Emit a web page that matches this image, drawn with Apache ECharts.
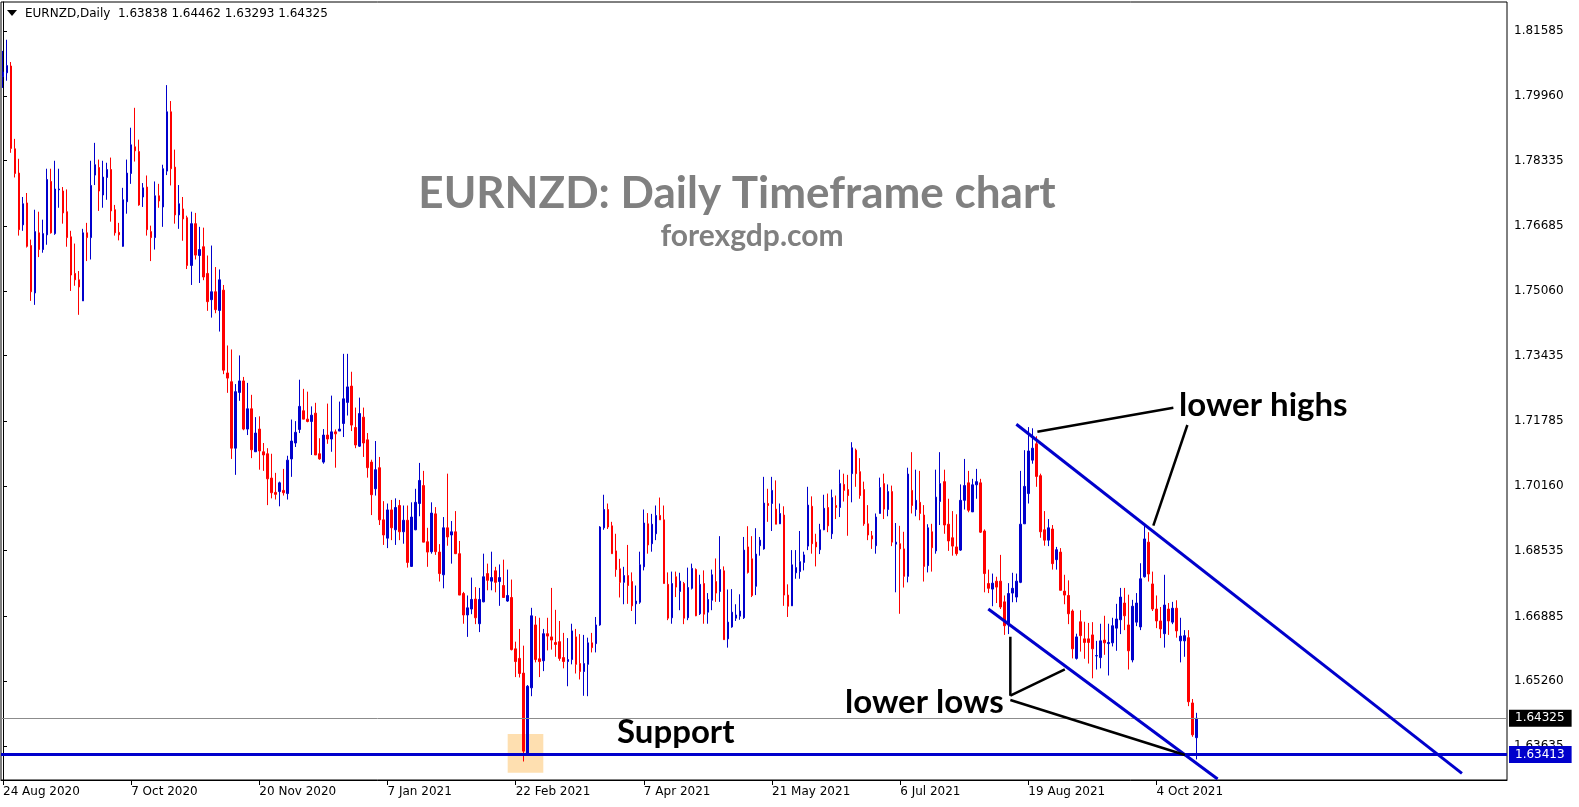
<!DOCTYPE html>
<html><head><meta charset="utf-8">
<script src="https://cdn.jsdelivr.net/npm/echarts@6/dist/echarts.min.js"></script>
<style>html,body{margin:0;padding:0;background:#fff}#c{width:1579px;height:807px}</style>
</head><body><div id="c"></div>
<script>
const symbolName = 'EURNZD';
const timeframe = 'Daily';
// each bar: [open, close, low, high]
const ohlc = [
[1.8044,1.8056,1.8016,1.8109],[1.8054,1.8072,1.8034,1.8137],[1.8071,1.7864,1.7853,1.8081],[1.7863,1.7801,1.7791,1.7888],
[1.7802,1.7660,1.7645,1.7838],[1.7672,1.7725,1.7657,1.7742],[1.7727,1.7618,1.7615,1.7752],[1.7620,1.7504,1.7481,1.7635],
[1.7501,1.7655,1.7471,1.7710],[1.7652,1.7610,1.7591,1.7705],[1.7610,1.7650,1.7602,1.7685],[1.7647,1.7786,1.7622,1.7813],
[1.7781,1.7652,1.7650,1.7813],[1.7650,1.7762,1.7647,1.7833],[1.7760,1.7762,1.7715,1.7813],[1.7757,1.7702,1.7675,1.7767],
[1.7705,1.7640,1.7617,1.7761],[1.7642,1.7546,1.7506,1.7657],[1.7550,1.7534,1.7519,1.7625],[1.7534,1.7516,1.7446,1.7556],
[1.7481,1.7652,1.7481,1.7662],[1.7652,1.7640,1.7581,1.7677],[1.7640,1.7771,1.7585,1.7833],[1.7797,1.7823,1.7772,1.7878],
[1.7816,1.7757,1.7707,1.7836],[1.7747,1.7792,1.7715,1.7833],[1.7791,1.7811,1.7735,1.7828],[1.7811,1.7707,1.7680,1.7841],
[1.7710,1.7652,1.7645,1.7722],[1.7653,1.7647,1.7633,1.7677],[1.7618,1.7735,1.7617,1.7765],[1.7730,1.7802,1.7700,1.7836],
[1.7801,1.7873,1.7775,1.7916],[1.7868,1.7858,1.7831,1.7966],[1.7856,1.7722,1.7720,1.7886],[1.7742,1.7765,1.7717,1.7777],
[1.7767,1.7660,1.7645,1.7796],[1.7655,1.7640,1.7581,1.7670],[1.7640,1.7745,1.7610,1.7781],[1.7745,1.7732,1.7715,1.7775],
[1.7717,1.7813,1.7667,1.7823],[1.7807,1.7956,1.7797,1.8023],[1.7956,1.7813,1.7771,1.7983],[1.7817,1.7697,1.7675,1.7861],
[1.7697,1.7725,1.7662,1.7772],[1.7712,1.7687,1.7632,1.7742],[1.7690,1.7570,1.7561,1.7695],[1.7570,1.7675,1.7521,1.7705],
[1.7675,1.7596,1.7585,1.7702],[1.7595,1.7610,1.7526,1.7667],[1.7617,1.7541,1.7533,1.7665],[1.7550,1.7479,1.7456,1.7595],
[1.7484,1.7504,1.7439,1.7620],[1.7504,1.7459,1.7450,1.7566],[1.7457,1.7534,1.7404,1.7560],[1.7508,1.7307,1.7297,1.7521],
[1.7300,1.7287,1.7250,1.7369],[1.7278,1.7111,1.7084,1.7359],[1.7111,1.7253,1.7044,1.7272],[1.7251,1.7280,1.7230,1.7344],
[1.7280,1.7159,1.7156,1.7290],[1.7159,1.7210,1.7144,1.7275],[1.7210,1.7107,1.7086,1.7245],[1.7102,1.7149,1.7102,1.7189],
[1.7159,1.7104,1.7057,1.7191],[1.7102,1.7094,1.7054,1.7124],[1.7097,1.7034,1.6968,1.7111],[1.7036,1.6999,1.6985,1.7097],
[1.7000,1.6995,1.6982,1.7049],[1.7002,1.7024,1.6965,1.7027],[1.7005,1.6999,1.6992,1.7059],[1.6997,1.7081,1.6982,1.7092],
[1.7084,1.7129,1.7039,1.7183],[1.7124,1.7151,1.7114,1.7179],[1.7158,1.7216,1.7149,1.7283],[1.7205,1.7184,1.7184,1.7260],
[1.7184,1.7178,1.7176,1.7253],[1.7178,1.7194,1.7094,1.7216],[1.7199,1.7094,1.7094,1.7225],[1.7097,1.7084,1.7082,1.7136],
[1.7076,1.7144,1.7072,1.7159],[1.7144,1.7134,1.7122,1.7223],[1.7134,1.7152,1.7102,1.7243],[1.7152,1.7147,1.7062,1.7158],
[1.7154,1.7159,1.7154,1.7228],[1.7173,1.7235,1.7139,1.7348],[1.7226,1.7265,1.7193,1.7348],[1.7267,1.7169,1.7154,1.7303],
[1.7163,1.7119,1.7111,1.7213],[1.7116,1.7198,1.7114,1.7238],[1.7189,1.7124,1.7089,1.7213],[1.7132,1.7062,1.7037,1.7149],
[1.7076,1.6994,1.6943,1.7082],[1.7009,1.7057,1.6992,1.7129],[1.7062,1.6931,1.6918,1.7089],[1.6931,1.6893,1.6868,1.6978],
[1.6885,1.6956,1.6860,1.6972],[1.6956,1.6911,1.6880,1.6981],[1.6906,1.6962,1.6868,1.6985],[1.6967,1.6901,1.6880,1.6981],
[1.6901,1.6930,1.6871,1.6967],[1.6930,1.6824,1.6811,1.6967],[1.6814,1.6938,1.6813,1.6975],[1.6906,1.6975,1.6905,1.7009],
[1.6972,1.7030,1.6940,1.7074],[1.7017,1.6875,1.6875,1.7054],[1.6876,1.6850,1.6813,1.6911],[1.6851,1.6948,1.6846,1.6975],
[1.6946,1.6851,1.6843,1.6963],[1.6850,1.6796,1.6776,1.6870],[1.6793,1.6911,1.6759,1.6938],[1.6911,1.6888,1.6866,1.7047],
[1.6893,1.6901,1.6821,1.6928],[1.6901,1.6846,1.6845,1.6953],[1.6846,1.6742,1.6742,1.6878],[1.6746,1.6692,1.6670,1.6750],
[1.6692,1.6710,1.6637,1.6741],[1.6707,1.6731,1.6694,1.6786],[1.6732,1.6685,1.6669,1.6762],[1.6670,1.6731,1.6649,1.6760],
[1.6725,1.6788,1.6724,1.6846],[1.6796,1.6779,1.6754,1.6821],[1.6777,1.6786,1.6754,1.6851],[1.6803,1.6774,1.6749,1.6813],
[1.6776,1.6786,1.6715,1.6819],[1.6766,1.6736,1.6736,1.6831],[1.6727,1.6741,1.6725,1.6806],[1.6736,1.6605,1.6603,1.6781],
[1.6607,1.6575,1.6536,1.6625],[1.6583,1.6545,1.6535,1.6657],[1.6546,1.6350,1.6324,1.6615],[1.6345,1.6513,1.6340,1.6516],
[1.6509,1.6690,1.6488,1.6710],[1.6667,1.6580,1.6573,1.6689],[1.6582,1.6575,1.6536,1.6685],[1.6577,1.6645,1.6551,1.6657],
[1.6645,1.6639,1.6603,1.6685],[1.6637,1.6629,1.6605,1.6760],[1.6623,1.6618,1.6587,1.6705],[1.6625,1.6583,1.6577,1.6677],
[1.6585,1.6575,1.6558,1.6647],[1.6575,1.6580,1.6513,1.6634],[1.6580,1.6652,1.6568,1.6670],[1.6637,1.6568,1.6545,1.6657],
[1.6570,1.6550,1.6530,1.6644],[1.6550,1.6570,1.6489,1.6642],[1.6568,1.6622,1.6488,1.6635],[1.6622,1.6610,1.6598,1.6647],
[1.6620,1.6667,1.6598,1.6687],[1.6667,1.6913,1.6665,1.6915],[1.6911,1.6957,1.6906,1.6994],[1.6957,1.6913,1.6908,1.6972],
[1.6916,1.6846,1.6846,1.6926],[1.6853,1.6806,1.6788,1.6896],[1.6808,1.6774,1.6736,1.6833],[1.6774,1.6791,1.6719,1.6813],
[1.6791,1.6766,1.6720,1.6868],[1.6776,1.6715,1.6702,1.6799],[1.6720,1.6727,1.6669,1.6766],[1.6724,1.6818,1.6720,1.6851],
[1.6813,1.6923,1.6804,1.6957],[1.6921,1.6868,1.6846,1.6948],[1.6871,1.6920,1.6851,1.6946],[1.6896,1.6942,1.6880,1.6967],
[1.6942,1.6931,1.6931,1.6987],[1.6931,1.6771,1.6771,1.6967],[1.6769,1.6684,1.6679,1.6799],[1.6685,1.6771,1.6670,1.6801],
[1.6788,1.6762,1.6737,1.6801],[1.6751,1.6777,1.6704,1.6798],[1.6771,1.6684,1.6669,1.6775],[1.6685,1.6761,1.6679,1.6811],
[1.6759,1.6809,1.6756,1.6821],[1.6806,1.6690,1.6689,1.6809],[1.6695,1.6769,1.6692,1.6793],[1.6771,1.6694,1.6670,1.6804],
[1.6699,1.6731,1.6670,1.6747],[1.6729,1.6793,1.6704,1.6806],[1.6776,1.6747,1.6725,1.6834],[1.6751,1.6806,1.6725,1.6890],
[1.6803,1.6630,1.6630,1.6814],[1.6632,1.6674,1.6610,1.6756],[1.6662,1.6699,1.6660,1.6757],[1.6684,1.6692,1.6677,1.6719],
[1.6689,1.6702,1.6680,1.6744],[1.6685,1.6855,1.6682,1.6888],[1.6863,1.6799,1.6796,1.6915],[1.6833,1.6741,1.6737,1.6890],
[1.6764,1.6845,1.6742,1.6910],[1.6866,1.6880,1.6841,1.6888],[1.6858,1.6973,1.6856,1.7039],[1.6972,1.6967,1.6926,1.7009],
[1.6972,1.7005,1.6903,1.7039],[1.6958,1.6920,1.6920,1.7030],[1.6921,1.6947,1.6921,1.6972],[1.6943,1.6742,1.6715,1.6965],
[1.6742,1.6714,1.6687,1.6769],[1.6715,1.6818,1.6715,1.6855],[1.6798,1.6811,1.6783,1.6855],[1.6801,1.6826,1.6783,1.6903],
[1.6824,1.6843,1.6804,1.6851],[1.6865,1.6968,1.6855,1.7014],[1.6965,1.6871,1.6846,1.6990],[1.6875,1.6863,1.6814,1.6896],
[1.6856,1.6906,1.6845,1.6921],[1.6906,1.6960,1.6905,1.6994],[1.6962,1.6916,1.6900,1.6997],[1.6896,1.6987,1.6883,1.7007],
[1.6967,1.6962,1.6933,1.6992],[1.6962,1.7022,1.6938,1.7057],[1.7020,1.7005,1.6977,1.7047],[1.7007,1.6992,1.6891,1.7044],
[1.7047,1.7112,1.6975,1.7126],[1.7106,1.7047,1.7014,1.7110],[1.7052,1.6992,1.6984,1.7086],[1.7007,1.6921,1.6916,1.7027],
[1.6921,1.6893,1.6880,1.6968],[1.6891,1.6883,1.6858,1.6903],[1.6866,1.6938,1.6846,1.6947],[1.6947,1.7012,1.6947,1.7037],
[1.7022,1.6958,1.6933,1.7047],[1.6957,1.7002,1.6940,1.7020],[1.7002,1.6875,1.6865,1.7017],[1.6870,1.6875,1.6749,1.6923],
[1.6871,1.6858,1.6695,1.6916],[1.6858,1.6789,1.6761,1.6901],[1.6789,1.7046,1.6774,1.7062],[1.7005,1.6967,1.6947,1.7101],
[1.6957,1.6980,1.6940,1.7057],[1.6975,1.6947,1.6930,1.7054],[1.6943,1.6814,1.6776,1.6968],[1.6816,1.6911,1.6799,1.6920],
[1.6901,1.6861,1.6801,1.6921],[1.6853,1.6988,1.6846,1.7057],[1.6977,1.7022,1.6918,1.7101],[1.7027,1.6918,1.6896,1.7057],
[1.6920,1.6878,1.6853,1.6984],[1.6886,1.6865,1.6841,1.6953],[1.6863,1.6846,1.6841,1.6945],[1.6855,1.6980,1.6853,1.7020],
[1.6980,1.7017,1.6957,1.7084],[1.7024,1.6955,1.6950,1.7054],[1.6951,1.7019,1.6951,1.7034],[1.7019,1.7027,1.6984,1.7059],
[1.7024,1.6900,1.6898,1.7034],[1.6903,1.6796,1.6749,1.6907],[1.6771,1.6759,1.6747,1.6806],[1.6757,1.6772,1.6714,1.6796],
[1.6777,1.6762,1.6722,1.6788],[1.6777,1.6712,1.6707,1.6843],[1.6725,1.6665,1.6642,1.6741],[1.6667,1.6746,1.6644,1.6772],
[1.6747,1.6759,1.6724,1.6798],[1.6737,1.6777,1.6724,1.6796],[1.6774,1.6920,1.6772,1.7054],[1.6921,1.7015,1.6921,1.7106],
[1.6997,1.7104,1.6972,1.7164],[1.7081,1.7111,1.7072,1.7161],[1.7122,1.7040,1.7014,1.7141],[1.7042,1.6901,1.6886,1.7047],
[1.6906,1.6880,1.6866,1.6953],[1.6880,1.6911,1.6865,1.6933],[1.6908,1.6821,1.6806,1.6918],[1.6831,1.6856,1.6806,1.6863],
[1.6850,1.6754,1.6754,1.6860],[1.6752,1.6742,1.6719,1.6793],[1.6741,1.6695,1.6669,1.6779],[1.6702,1.6607,1.6583,1.6706],
[1.6583,1.6637,1.6580,1.6645],[1.6675,1.6640,1.6600,1.6704],[1.6632,1.6623,1.6582,1.6675],[1.6632,1.6623,1.6570,1.6672],
[1.6642,1.6607,1.6533,1.6674],[1.6589,1.6590,1.6555,1.6627],[1.6585,1.6627,1.6558,1.6670],[1.6629,1.6622,1.6592,1.6690],
[1.6620,1.6623,1.6540,1.6670],[1.6622,1.6665,1.6613,1.6685],[1.6659,1.6682,1.6602,1.6720],[1.6680,1.6737,1.6644,1.6760],
[1.6722,1.6690,1.6654,1.6760],[1.6667,1.6602,1.6555,1.6743],[1.6579,1.6714,1.6573,1.6730],[1.6674,1.6722,1.6664,1.6747],
[1.6662,1.6783,1.6654,1.6822],[1.6788,1.6883,1.6786,1.6920],[1.6875,1.6795,1.6776,1.6900],[1.6770,1.6707,1.6702,1.6801],
[1.6707,1.6677,1.6659,1.6741],[1.6677,1.6657,1.6634,1.6712],[1.6645,1.6717,1.6610,1.6793],[1.6707,1.6677,1.6642,1.6722],
[1.6674,1.6709,1.6669,1.6725],[1.6709,1.6652,1.6635,1.6729],[1.6627,1.6639,1.6573,1.6685],[1.6627,1.6640,1.6587,1.6654],
[1.6635,1.6474,1.6463,1.6654],[1.6471,1.6391,1.6386,1.6481],[1.63838,1.64325,1.63293,1.64462]
];
const slotCount = 376;
const xTickBars = [0, 32, 64, 96, 128, 160, 192, 224, 256, 288];
const xTickLabels = ['24 Aug 2020', '7 Oct 2020', '20 Nov 2020', '7 Jan 2021', '22 Feb 2021',
  '7 Apr 2021', '21 May 2021', '6 Jul 2021', '19 Aug 2021', '4 Oct 2021'];
const yTickValues = [1.81585, 1.79960, 1.78335, 1.76685, 1.75060, 1.73435, 1.71785,
  1.70160, 1.68535, 1.66885, 1.65260, 1.63635];
const yMin = 1.62775, yMax = 1.82318;
const supportLevel = 1.63413;
// annotation lines: [barIndex, price] end points
const upperChannel = [[253, 1.7171], [364.25, 1.6294]];
const lowerChannel = [[246, 1.6707], [303.25, 1.6280]];
const highPointers = [[[258.25, 1.71525], [292.2, 1.72128]], [[295.7, 1.71693], [287.2, 1.69163]]];
const lowPointers = [[[251.5, 1.66375], [251.5, 1.64893]], [[251.5, 1.64893], [265.1, 1.65556]], [[251.5, 1.64785], [295.1, 1.63403]]];
const supportZone = [[126, 1.63931], [134.9, 1.62959]];

const last = ohlc[ohlc.length - 1];
const lastClose = last[1];
const headerText = symbolName + ',' + timeframe + '  ' +
  [last[0], last[3], last[2], last[1]].map(v => v.toFixed(5)).join(' ');
const categories = Array.from({length: slotCount}, (_, i) => String(i));
const FONT = 'DejaVu Sans';
const BLUE = '#0000cc';

const tickShown = (idx) => xTickBars.indexOf(idx) >= 0;

function segSeries(pts, color, width) {
  return {type: 'line', xAxisIndex: 1, yAxisIndex: 0, data: pts, symbol: 'none', silent: true,
    lineStyle: {color: color, width: width}, z: 5, animation: false};
}

const series = [
  {type: 'line', xAxisIndex: 1, yAxisIndex: 0, data: supportZone, symbol: 'none', silent: true,
   lineStyle: {opacity: 0}, z: 1, animation: false,
   markArea: {silent: true, itemStyle: {color: '#fedfb0', opacity: 1},
     data: [[{coord: supportZone[0]}, {coord: supportZone[1]}]]}},
  {type: 'candlestick', xAxisIndex: 0, yAxisIndex: 0, data: ohlc, barWidth: 2, z: 3, silent: true,
   itemStyle: {color: BLUE, color0: '#ff0000', borderColor: BLUE, borderColor0: '#ff0000', borderWidth: 1},
   markLine: {silent: true, symbol: ['none', 'none'], animation: false, precision: 5,
     label: {position: 'end', distance: 2, color: '#fff', fontFamily: FONT, fontSize: 12,
       padding: [3, 7, 2, 6], formatter: p => Number(p.value).toFixed(5)},
     data: [
       {yAxis: lastClose, lineStyle: {color: '#8c8c8c', width: 1, type: 'solid'}, label: {backgroundColor: '#000'}},
       {yAxis: supportLevel, lineStyle: {color: BLUE, width: 3, type: 'solid'}, label: {backgroundColor: BLUE}}
     ]}},
  segSeries(upperChannel, BLUE, 3),
  segSeries(lowerChannel, BLUE, 3)
];
highPointers.concat(lowPointers).forEach(p => series.push(segSeries(p, '#000', 2.5)));

const textEl = (txt, x, y, size, color, align) => ({
  type: 'text', silent: true, z: 10,
  style: {text: txt, x: x, y: y, fill: color, fontFamily: 'Lato', fontWeight: 'bold', fontSize: size,
    align: align || 'left', verticalAlign: 'middle'}
});

const chart = echarts.init(document.getElementById('c'), null, {renderer: 'canvas'});
chart.setOption({
  animation: false,
  backgroundColor: '#fff',
  grid: {left: 1, right: 72, top: 2, bottom: 27, show: true, borderColor: '#000', borderWidth: 1},
  xAxis: [
    {type: 'category', data: categories, boundaryGap: true,
     axisLine: {show: true, lineStyle: {color: '#000', width: 1}},
     axisTick: {show: true, alignWithLabel: true, interval: tickShown, length: 5, lineStyle: {color: '#000'}},
     axisLabel: {show: true, interval: tickShown, align: 'left', margin: 6, color: '#000',
       fontFamily: FONT, fontSize: 12,
       formatter: (v, idx) => { const k = xTickBars.indexOf(Number(v)); return k >= 0 ? xTickLabels[k] : ''; }},
     splitLine: {show: false}},
    {type: 'value', min: -0.5, max: slotCount - 0.5, show: false}
  ],
  yAxis: [{
    type: 'value', position: 'right', min: yMin, max: yMax, scale: true,
    axisLine: {show: true, lineStyle: {color: '#000', width: 1}},
    axisTick: {show: true, customValues: yTickValues, length: 4, lineStyle: {color: '#000'}},
    axisLabel: {show: true, customValues: yTickValues, margin: 7, color: '#000', fontFamily: FONT, fontSize: 12,
      formatter: v => v.toFixed(5)},
    splitLine: {show: false}
  }],
  series: series,
  graphic: [
    {type: 'polygon', silent: true, shape: {points: [[7, 10], [17, 10], [12, 16]]}, style: {fill: '#000'}},
    {type: 'text', silent: true, style: {text: headerText, x: 25, y: 14, fill: '#000', fontFamily: FONT,
      fontSize: 12, verticalAlign: 'middle'}},
    textEl('EURNZD: Daily Timeframe chart', 737, 194, 44, '#808080', 'center'),
    textEl('forexgdp.com', 752, 236, 30, '#808080', 'center'),
    textEl('lower highs', 1179, 405, 33, '#000'),
    textEl('lower lows', 845, 702, 33, '#000'),
    textEl('Support', 617, 732, 33, '#000')
  ]
});
</script>
</body></html>
